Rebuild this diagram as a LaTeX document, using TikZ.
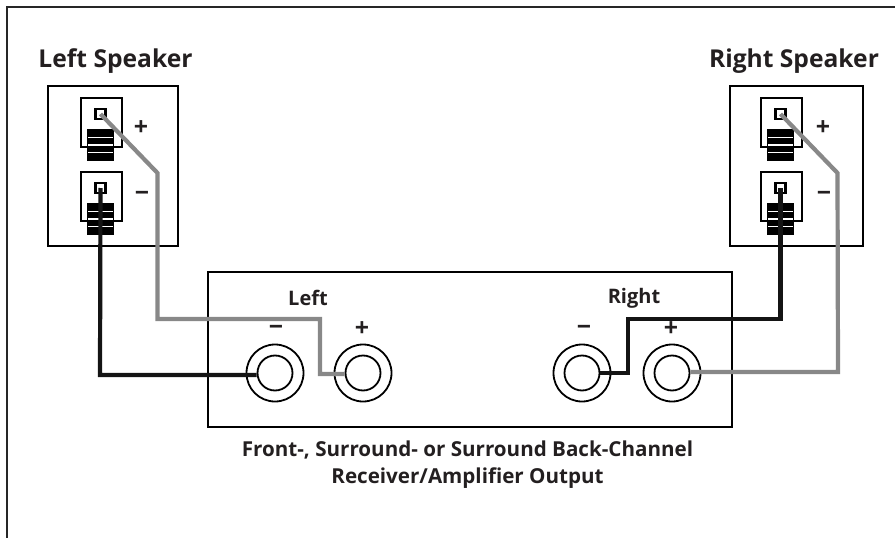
\documentclass[tikz,border=0pt]{standalone}
\usepackage{fontspec}
\setmainfont{Open Sans}
\usetikzlibrary{positioning, calc}
\definecolor{wiregray}{RGB}{136, 136, 136}
\definecolor{wireblack}{RGB}{20, 20, 20}
\definecolor{inkblack}{RGB}{35, 31, 32}
\tikzset{
  panel/.style={draw=black, line width=2pt, fill=white, inner sep=0pt, anchor=north west},
  plate/.style={panel, minimum width=41pt, minimum height=49pt},
  post/.style={draw=black, line width=2.2pt, fill=white, inner sep=0pt, minimum size=10pt},
  stack/.style={fill=black, inner sep=0pt, minimum width=27pt, minimum height=32pt},
  stackline/.style={draw=white, line width=1.2pt},
  jack/.style={circle, draw=black, line width=1.8pt, fill=white, inner sep=0pt},
  graywire/.style={draw=wiregray, line width=4.2pt, line join=miter},
  blackwire/.style={draw=wireblack, line width=4.2pt, line join=miter},
  title/.style={text=inkblack, font=\fontsize{24.6}{26}\selectfont\bfseries},
  chan/.style={text=inkblack, font=\fontsize{20}{22}\selectfont\bfseries},
  sign/.style={text=inkblack, font=\fontsize{25}{26}\selectfont\bfseries},
  caption/.style={text=inkblack, font=\fontsize{20.6}{27}\selectfont\bfseries, align=center}
}
% draws one terminal plate: name, x, y
\newcommand{\terminal}[3]{
  \node[plate] (plate#1) at (#2,#3) {};
  \node[post] (post#1) at ($(#2,#3)+(20.5,17)$) {};
  \node[stack] (stack#1) at ($(#2,#3)+(20.5,48)$) {};
  \foreach \dy in {-7.5,0,7.5}
    \draw[stackline] ($(stack#1.center)+(-12.5,\dy)$) -- ($(stack#1.center)+(12.5,\dy)$);
}
\begin{document}
\begin{tikzpicture}[x=1pt, y=-1pt]
  \useasboundingbox (0,0) rectangle (895,538);
  % page frame, open on two sides
  \draw[line width=1.5pt, draw=black!85] (895,7) -- (7,7) -- (7,538);

  % speakers
  \node[panel, minimum width=130pt, minimum height=160pt] (spkL) at (47,85) {};
  \node[panel, minimum width=133pt, minimum height=160pt] (spkR) at (729,85) {};
  \node[title] (titleL) at (115.5,61) {Left Speaker};
  \node[title] (titleR) at (794,61) {Right Speaker};
  \terminal{LP}{80}{97}
  \terminal{LM}{80}{171}
  \terminal{RP}{760}{97}
  \terminal{RM}{760}{171}
  \node[sign] (signLP) at (141,128) {+};
  \node[sign] (signLM) at (142,196) {\textminus};
  \node[sign] (signRP) at (823,128) {+};
  \node[sign] (signRM) at (824,196) {\textminus};

  % amplifier
  \node[panel, minimum width=524pt, minimum height=155pt] (amp) at (207,271) {};
  \node[chan] (chanL) at (308,298) {Left};
  \node[chan] (chanR) at (634,298) {Right};
  \foreach \name/\xx in {LM/275, LP/363, RM/582, RP/672} {
    \node[jack, minimum size=57pt] (outer\name) at (\xx,373) {};
    \node[jack, minimum size=35pt] (jack\name) at (\xx,373) {};
  }
  \node[sign] (signAL) at (276,330) {\textminus};
  \node[sign] (signBL) at (362,329) {+};
  \node[sign] (signAR) at (584,330) {\textminus};
  \node[sign] (signBR) at (671,329) {+};
  \node[caption] (caption) at (467.5,465) {Front-, Surround- or Surround Back-Channel\\Receiver/Amplifier Output};

  % wires
  \draw[graywire] (postLP.center) -- ++(57,59) -- ++(0,146) -| (320,374) -- (jackLP.west |- 0,374);
  \draw[blackwire] (postLM.center) -- (100,375) -- (jackLM.west |- 0,375);
  \draw[blackwire] (jackRM.east) -| (628,319) -| (postRM.center);
  \draw[graywire] (postRP.center) -- ++(57,59) -- (838,372) -- (jackRP.east |- 0,372);
\end{tikzpicture}
\end{document}
